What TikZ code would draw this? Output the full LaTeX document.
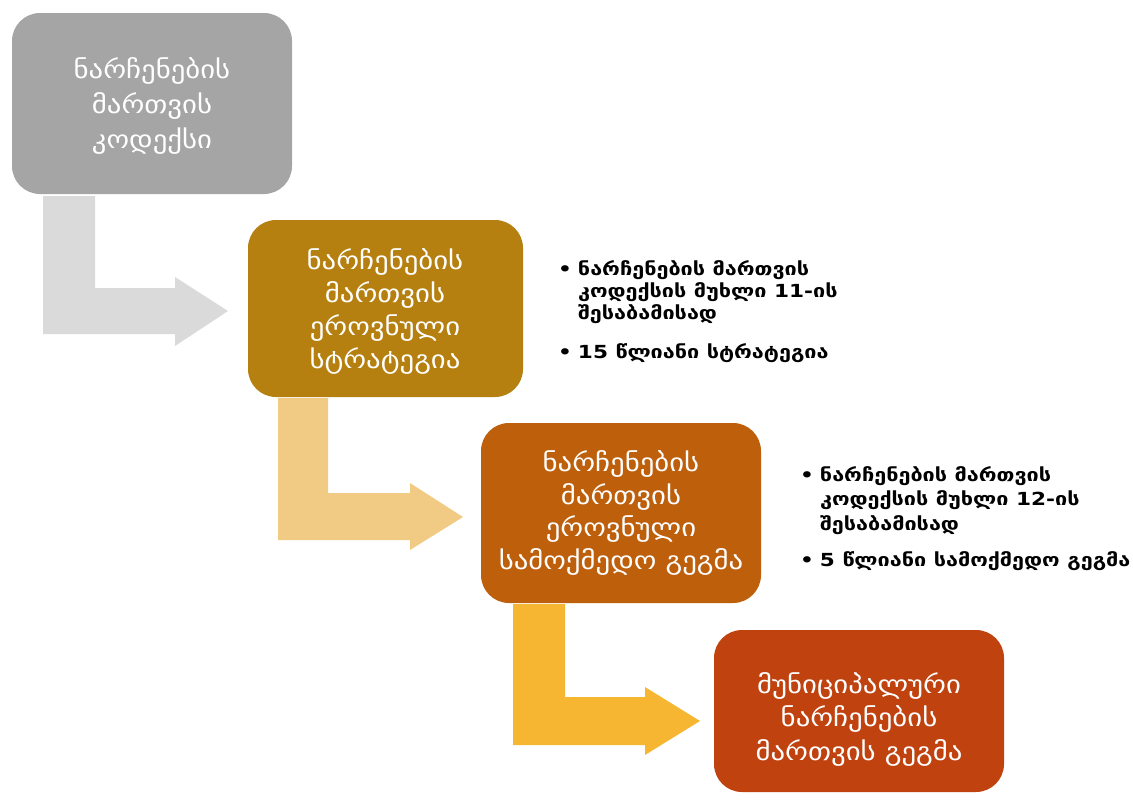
\documentclass[tikz,border=0pt]{standalone}
\usepackage{fontspec}
\setmainfont{DejaVu Sans}
\newfontfamily\geo[FakeStretch=1.15]{DejaVu Sans}
\newfontfamily\geob[FakeStretch=1.2]{DejaVu Sans}
\definecolor{cgray}{HTML}{A5A5A5}
\definecolor{cgold}{HTML}{B5800F}
\definecolor{corange}{HTML}{BE5F0C}
\definecolor{cred}{HTML}{BF420F}
\definecolor{agray}{HTML}{DADADA}
\definecolor{atan}{HTML}{F1CB84}
\definecolor{ayel}{HTML}{F7B632}
\tikzset{
  stepbox/.style={rounded corners=28pt, inner sep=0pt},
  boxtext/.style={text=white, align=center, font=\geo\fontsize{25}{33}\selectfont},
  bultext/.style={anchor=north west, inner sep=0pt, align=left},
}
\begin{document}
\begin{tikzpicture}[x=1pt,y=-1pt]
\useasboundingbox (0,0) rectangle (1133,809);
% boxes
\fill[cgray, stepbox] (12,13) rectangle (292,194);
\fill[cgold, stepbox] (248,220) rectangle (523,397);
\fill[corange, stepbox] (481,423) rectangle (761,603);
\fill[cred, stepbox] (714,630) rectangle (1004,792);
% arrows
\fill[agray] (43,196) -- (95,196) -- (95,288) -- (175,288) -- (175,277) -- (228,311) -- (175,346) -- (175,334) -- (43,334) -- cycle;
\fill[atan] (278,398) -- (328,398) -- (328,493) -- (410,493) -- (410,483) -- (463,517) -- (410,550) -- (410,540) -- (278,540) -- cycle;
\fill[ayel] (513,604) -- (565,604) -- (565,697) -- (645,697) -- (645,687) -- (700,721) -- (645,755) -- (645,745) -- (513,745) -- cycle;
% box texts
\node[boxtext, font=\geo\fontsize{25}{35}\selectfont] (t1) at (152,106) {ნარჩენების\\მართვის\\კოდექსი};
\node[boxtext] (t2) at (385,311) {ნარჩენების\\მართვის\\ეროვნული\\სტრატეგია};
\node[boxtext, font=\geo\fontsize{25}{32.5}\selectfont] (t3) at (621,513) {ნარჩენების\\მართვის\\ეროვნული\\სამოქმედო გეგმა};
\node[boxtext, font=\geo\fontsize{25}{33.5}\selectfont] (t4) at (859,719) {მუნიციპალური\\ნარჩენების\\მართვის გეგმა};
% bullets
\node[bultext, font=\geob\bfseries\fontsize{18}{22}\selectfont] (b1) at (558,260) {\begin{tabular}{@{}l@{\hspace{6pt}}l@{}}
•&ნარჩენების მართვის\\
 &კოდექსის მუხლი 11-ის\\
 &შესაბამისად\\[17pt]
•&15 წლიანი სტრატეგია
\end{tabular}};
\node[bultext, font=\geob\bfseries\fontsize{18}{24.5}\selectfont] (b2) at (800,464) {\begin{tabular}{@{}l@{\hspace{6pt}}l@{}}
•&ნარჩენების მართვის\\
 &კოდექსის მუხლი 12-ის\\
 &შესაბამისად\\[12pt]
•&5 წლიანი სამოქმედო გეგმა
\end{tabular}};
\end{tikzpicture}
\end{document}
